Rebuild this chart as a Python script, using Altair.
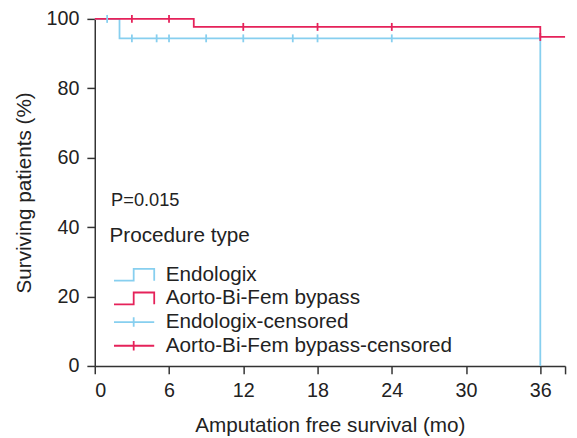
import altair as alt
import pandas as pd

# ---- data ----
all_series = ["Endologix", "Aorto-Bi-Fem bypass",
              "Endologix-censored", "Aorto-Bi-Fem bypass-censored"]
series_colors = ["#87CFEF", "#E5225A", "#87CFEF", "#E5225A"]

endo_t = [0, 2, 36]
endo_s = [100, 94.4, 0]
abf_t = [0, 8, 36, 38]
abf_s = [100, 97.7, 94.8, 94.8]

endo_cens_t = [1, 3, 5, 6, 9, 12, 16, 18, 24]
endo_cens_s = [100, 94.4, 94.4, 94.4, 94.4, 94.4, 94.4, 94.4, 94.4]
abf_cens_t = [3, 6, 12, 18, 24, 36]
abf_cens_s = [100, 100, 97.7, 97.7, 97.7, 94.8]

x_ticks = [0, 6, 12, 18, 24, 30, 36, 38]
y_ticks = [0, 20, 40, 60, 80, 100]

p_text = ["P=0.015"]
p_x = [1.32]
p_y = [47.8]

# ---- tables ----
lines_df = pd.DataFrame({
    "t": endo_t + abf_t,
    "s": endo_s + abf_s,
    "series": [all_series[0]] * len(endo_t) + [all_series[1]] * len(abf_t),
})
cens_df = pd.DataFrame({
    "t": endo_cens_t + abf_cens_t,
    "s": endo_cens_s + abf_cens_s,
    "series": [all_series[2]] * len(endo_cens_t) + [all_series[3]] * len(abf_cens_t),
})
ann_df = pd.DataFrame({"t": p_x, "s": p_y, "label": p_text})

FONT = "Liberation Sans"
step_path = "M -1 1 L 2.33 1 L 2.33 -1 L 5.8 -1 L 5.8 1"
cens_path = "M -1 0 L 5.8 0 M 2.33 -0.8 L 2.33 0.8"

x_enc = alt.X("t:Q", scale=alt.Scale(domain=[0, 38], nice=False),
              axis=alt.Axis(values=x_ticks, title="Amputation free survival (mo)",
                            labelExpr="datum.value == 38 ? '' : datum.label",
                            labelPadding=7, titlePadding=14))
y_enc = alt.Y("s:Q", scale=alt.Scale(domain=[0, 100], nice=False),
              axis=alt.Axis(values=y_ticks, title="Surviving patients (%)",
                            labelPadding=8, titlePadding=12))
color_scale = alt.Scale(domain=all_series, range=series_colors)

legend = alt.Legend(title="Procedure type", orient="none", legendX=15, legendY=209,
                    symbolSize=144, symbolStrokeWidth=1.8, labelOffset=36,
                    labelFontSize=21, titleFontSize=21, titleFontWeight="normal",
                    labelFont=FONT, titleFont=FONT, labelColor="#222", titleColor="#222",
                    labelLimit=0, padding=0, rowPadding=2, titlePadding=19)

lines = alt.Chart(lines_df).mark_line(interpolate="step-after", strokeWidth=1.8).encode(
    x=x_enc, y=y_enc,
    color=alt.Color("series:N", scale=color_scale, title="Procedure type"),
)

cens = alt.Chart(cens_df).mark_point(shape="M0,-1L0,1", size=64, filled=False,
                                     strokeWidth=1.8, opacity=1).encode(
    x=x_enc, y=y_enc,
    color=alt.Color("series:N", scale=color_scale, title="Procedure type"),
)

legend_layer = alt.Chart(cens_df).transform_filter("datum.t > 1000").mark_point(
    filled=False, opacity=1, strokeWidth=1.8).encode(
    x=x_enc, y=y_enc,
    color=alt.Color("series:N", scale=color_scale, legend=legend),
    shape=alt.Shape("series:N",
                    scale=alt.Scale(domain=all_series,
                                    range=[step_path, step_path, cens_path, cens_path]),
                    legend=legend),
)

ann = alt.Chart(ann_df).mark_text(align="left", baseline="middle", fontSize=18.5,
                                  font=FONT, color="#222").encode(
    x=x_enc, y=y_enc, text="label:N")

chart = alt.layer(lines, cens, legend_layer, ann).properties(
    width=477, height=352,
    autosize=alt.AutoSizeParams(type="none"),
    padding={"left": 88, "top": 8, "right": 4, "bottom": 70},
).configure(font=FONT).configure_view(stroke=None).configure_axis(
    grid=False, labelFontSize=20, titleFontSize=21, titleFontWeight="normal",
    labelFont=FONT, titleFont=FONT, domainColor="#333", tickColor="#333",
    labelColor="#222", titleColor="#222", tickSize=8, domainWidth=1.5, tickWidth=1.5,
)

chart.save("out.html", embed_options={"renderer": "svg", "actions": False})
